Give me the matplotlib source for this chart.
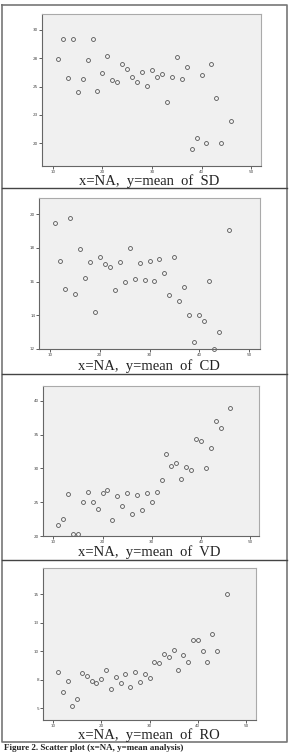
import matplotlib
matplotlib.use('Agg')
import matplotlib.pyplot as plt

W, H = 297, 753

# ── data ──────────────────────────────────────────────────────────────────
na_sd = [11, 12, 13, 14, 15, 16, 17, 18, 19, 20, 21, 22, 23, 24, 25, 26, 27, 28,
         29, 30, 31, 32, 33, 34, 35, 36, 37, 38, 39, 40, 41, 42, 43, 44, 46]
mean_sd = [27.44, 29.24, 25.74, 29.18, 24.53, 25.65, 27.32, 29.18, 24.65, 26.18,
           27.68, 25.59, 25.41, 27.03, 26.56, 25.82, 25.44, 26.29, 25.03, 26.44,
           25.85, 26.12, 23.68, 25.82, 27.59, 25.65, 26.71, 19.50, 20.44, 26.03,
           20.00, 27.03, 24.03, 20.00, 22.00]

na_cd = na_sd
mean_cd = [19.45, 17.22, 15.53, 19.78, 15.25, 17.93, 16.23, 17.18, 14.21, 17.47,
           17.02, 16.87, 15.51, 17.16, 15.96, 17.97, 16.12, 17.08, 16.10, 17.24,
           16.02, 17.36, 16.49, 15.21, 17.47, 14.82, 15.68, 14.01, 12.43, 14.01,
           13.67, 16.04, 12.00, 13.00, 19.05]

na_vd = na_sd
mean_vd = [21.58, 22.57, 26.27, 20.25, 20.25, 25.09, 26.57, 25.04, 24.00, 26.32,
           26.81, 22.37, 25.93, 24.49, 26.42, 23.21, 26.07, 23.90, 26.37, 25.09,
           26.57, 28.35, 32.10, 30.32, 30.81, 28.40, 30.17, 29.78, 34.32, 34.02,
           30.02, 32.99, 36.99, 36.00, 39.01]

na_ro = na_sd
mean_ro = [8.20, 6.40, 7.38, 5.15, 5.76, 8.08, 7.85, 7.41, 7.21, 7.56,
           8.34, 6.66, 7.76, 7.24, 8.02, 6.83, 8.20, 7.27, 7.99, 7.62,
           9.01, 8.92, 9.74, 9.48, 10.12, 8.31, 9.68, 9.01, 10.99, 10.99,
           10.03, 9.01, 11.51, 10.03, 15.00]

x_ticks = [10, 20, 30, 40, 50]
y_ticks_sd = [20, 22.5, 25, 27.5, 30]
y_labels_sd = ["20", "23", "25", "28", "30"]
y_ticks_cd = [12, 14, 16, 18, 20]
y_labels_cd = ["12", "14", "16", "18", "20"]
y_ticks_vd = [20, 25, 30, 35, 40]
y_labels_vd = ["20", "25", "30", "35", "40"]
y_ticks_ro = [5, 7.5, 10, 12.5, 15]
y_labels_ro = ["5", "8", "10", "13", "15"]

captions = ["x=NA,  y=mean  of  SD", "x=NA,  y=mean  of  CD",
            "x=NA,  y=mean  of  VD", "x=NA,  y=mean  of  RO"]

# panel layout in pixels: (left, top, right, bottom), xlim, ylim, caption y
panels = [
    (na_sd, mean_sd, y_ticks_sd, y_labels_sd, (42, 14, 261, 166), (7.8, 52.0), (18.0, 31.4), 180),
    (na_cd, mean_cd, y_ticks_cd, y_labels_cd, (39, 198, 260, 349), (7.8, 52.2), (12.0, 20.95), 365),
    (na_vd, mean_vd, y_ticks_vd, y_labels_vd, (43, 386, 259, 536), (7.9, 51.8), (20.0, 42.2), 551),
    (na_ro, mean_ro, y_ticks_ro, y_labels_ro, (43, 568, 256, 720), (7.9, 52.1), (3.96, 17.3), 734),
]

fig = plt.figure(figsize=(W / 100, H / 100), dpi=100)
fig.patch.set_facecolor("white")

# frame overlay in pixel coordinates
frame = fig.add_axes([0, 0, 1, 1])
frame.set_xlim(0, W)
frame.set_ylim(H, 0)
frame.axis("off")
frame.plot([2, 287, 287, 2, 2], [5, 5, 742, 742, 5], color="#777777", lw=1.2)
for yy in [188, 374, 560]:
    frame.plot([2, 287], [yy, yy], color="#444444", lw=1.0)

for (xs, ys, yt, yl, (l, t, r, b), xlim, ylim, cy), cap in zip(panels, captions):
    ax = fig.add_axes([l / W, 1 - b / H, (r - l) / W, (b - t) / H])
    ax.set_facecolor("#f0f0f0")
    ax.plot(xs, ys, "o", ms=2.8, mfc="none", mec="#555555", mew=0.6, clip_on=False)
    ax.set_xlim(*xlim)
    ax.set_ylim(*ylim)
    ax.set_xticks(x_ticks)
    ax.set_xticklabels([str(v) for v in x_ticks])
    ax.set_yticks(yt)
    ax.set_yticklabels(yl)
    ax.tick_params(labelsize=3.0, length=2, width=0.6, pad=0.8, colors="#444444")
    for side in ["top", "right"]:
        ax.spines[side].set_color("#aaaaaa")
        ax.spines[side].set_linewidth(0.8)
    for side in ["left", "bottom"]:
        ax.spines[side].set_color("#666666")
        ax.spines[side].set_linewidth(0.8)
    frame.text(149, cy + 1, cap, ha="center", va="center", fontsize=10.5,
               family="Liberation Serif", color="#222222")

frame.text(4, 744, "Figure 2. Scatter plot (x=NA, y=mean analysis)", ha="left", va="top",
           fontsize=6.5, fontweight="bold", family="Liberation Serif", color="#222222")

plt.savefig("out.png", dpi=100)
plt.close()
